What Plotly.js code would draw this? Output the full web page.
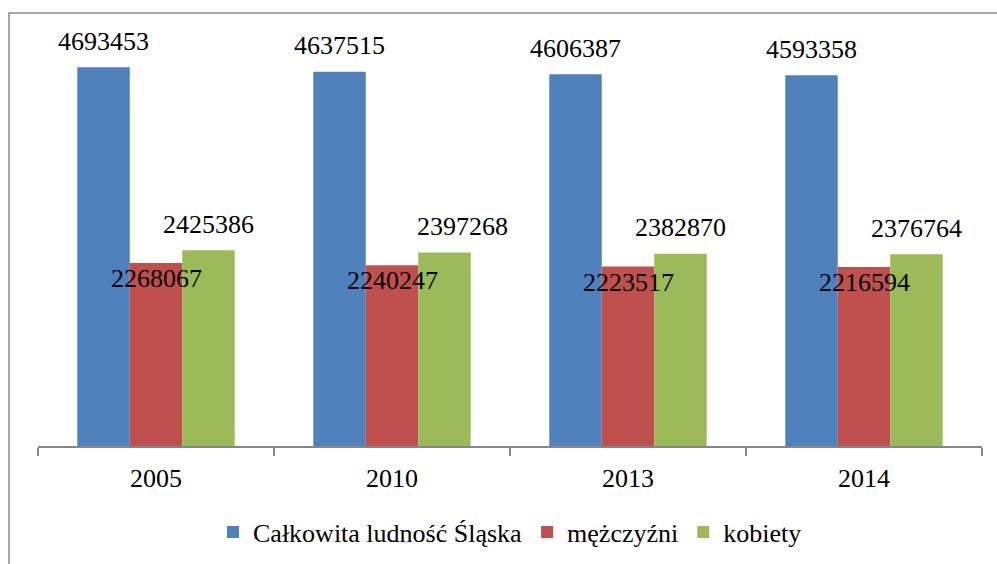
<!DOCTYPE html>
<html>
<head>
<meta charset="utf-8">
<script src="https://cdn.plot.ly/plotly-3.0.1.min.js"></script>
<style>html,body{margin:0;padding:0;background:#fff;}#chart{width:997px;height:564px;}</style>
</head>
<body>
<div id="chart"></div>
<script>
const years = ['2005', '2010', '2013', '2014'];
const seriesNames = ['Całkowita ludność Śląska', 'mężczyźni', 'kobiety'];
const total = [4693453, 4637515, 4606387, 4593358];
const men = [2268067, 2240247, 2223517, 2216594];
const women = [2425386, 2397268, 2382870, 2376764];

const colors = ['#4F81BD', '#C0504D', '#9BBB59'];
const seriesValues = [total, men, women];
const serifFont = {family: 'Liberation Serif', size: 26, color: '#000'};

const traces = seriesValues.map((vals, i) => ({
  type: 'bar', x: years, y: vals, name: seriesNames[i],
  marker: {color: colors[i]}, hoverinfo: 'none'
}));

const barPx = 52.5;
const annotations = [];
seriesValues.forEach((vals, s) => {
  vals.forEach((v, k) => {
    let xs = (s - 1) * barPx;
    if (s === 2 && k === 1) xs += 18;
    annotations.push({
      x: k, y: v, xref: 'x', yref: 'y',
      text: String(v), showarrow: false,
      xanchor: 'center', yanchor: 'middle',
      xshift: xs, yshift: s === 1 ? -15.5 : 26,
      font: {family: 'Liberation Serif', size: 26, color: '#000'}
    });
  });
});

const layout = {
  width: 997, height: 564,
  margin: {l: 38, r: 15, t: 40, b: 118, autoexpand: false},
  paper_bgcolor: '#fff', plot_bgcolor: '#fff',
  barmode: 'group', bargap: 0.333, bargroupgap: 0,
  xaxis: {
    type: 'category', range: [-0.5, 3.5], showgrid: false, zeroline: false,
    showline: true, linecolor: '#868686', linewidth: 1.5,
    ticks: 'outside', tickson: 'boundaries', ticklen: 8, tickcolor: '#868686', tickwidth: 1.5,
    ticklabelstandoff: 8,
    tickfont: {family: 'Liberation Serif', size: 26, color: '#000'}, fixedrange: true
  },
  yaxis: {range: [0, 5030000], visible: false, showgrid: false, zeroline: false, fixedrange: true},
  showlegend: true,
  legend: {
    orientation: 'h', x: 0.5, xanchor: 'center', y: -0.212, yanchor: 'middle',
    font: {family: 'Liberation Serif', size: 26, color: '#000'}, bgcolor: 'rgba(0,0,0,0)'
  },
  annotations: annotations,
  shapes: [{
    type: 'rect', xref: 'paper', yref: 'paper',
    x0: -29 / 944, x1: 1.2, y0: -0.5, y1: (446 - 13) / 406,
    line: {color: '#8c8c8c', width: 1.5}, fillcolor: 'rgba(0,0,0,0)', layer: 'below'
  }]
};

Plotly.newPlot('chart', traces, layout, {displayModeBar: false});
</script>
</body>
</html>
